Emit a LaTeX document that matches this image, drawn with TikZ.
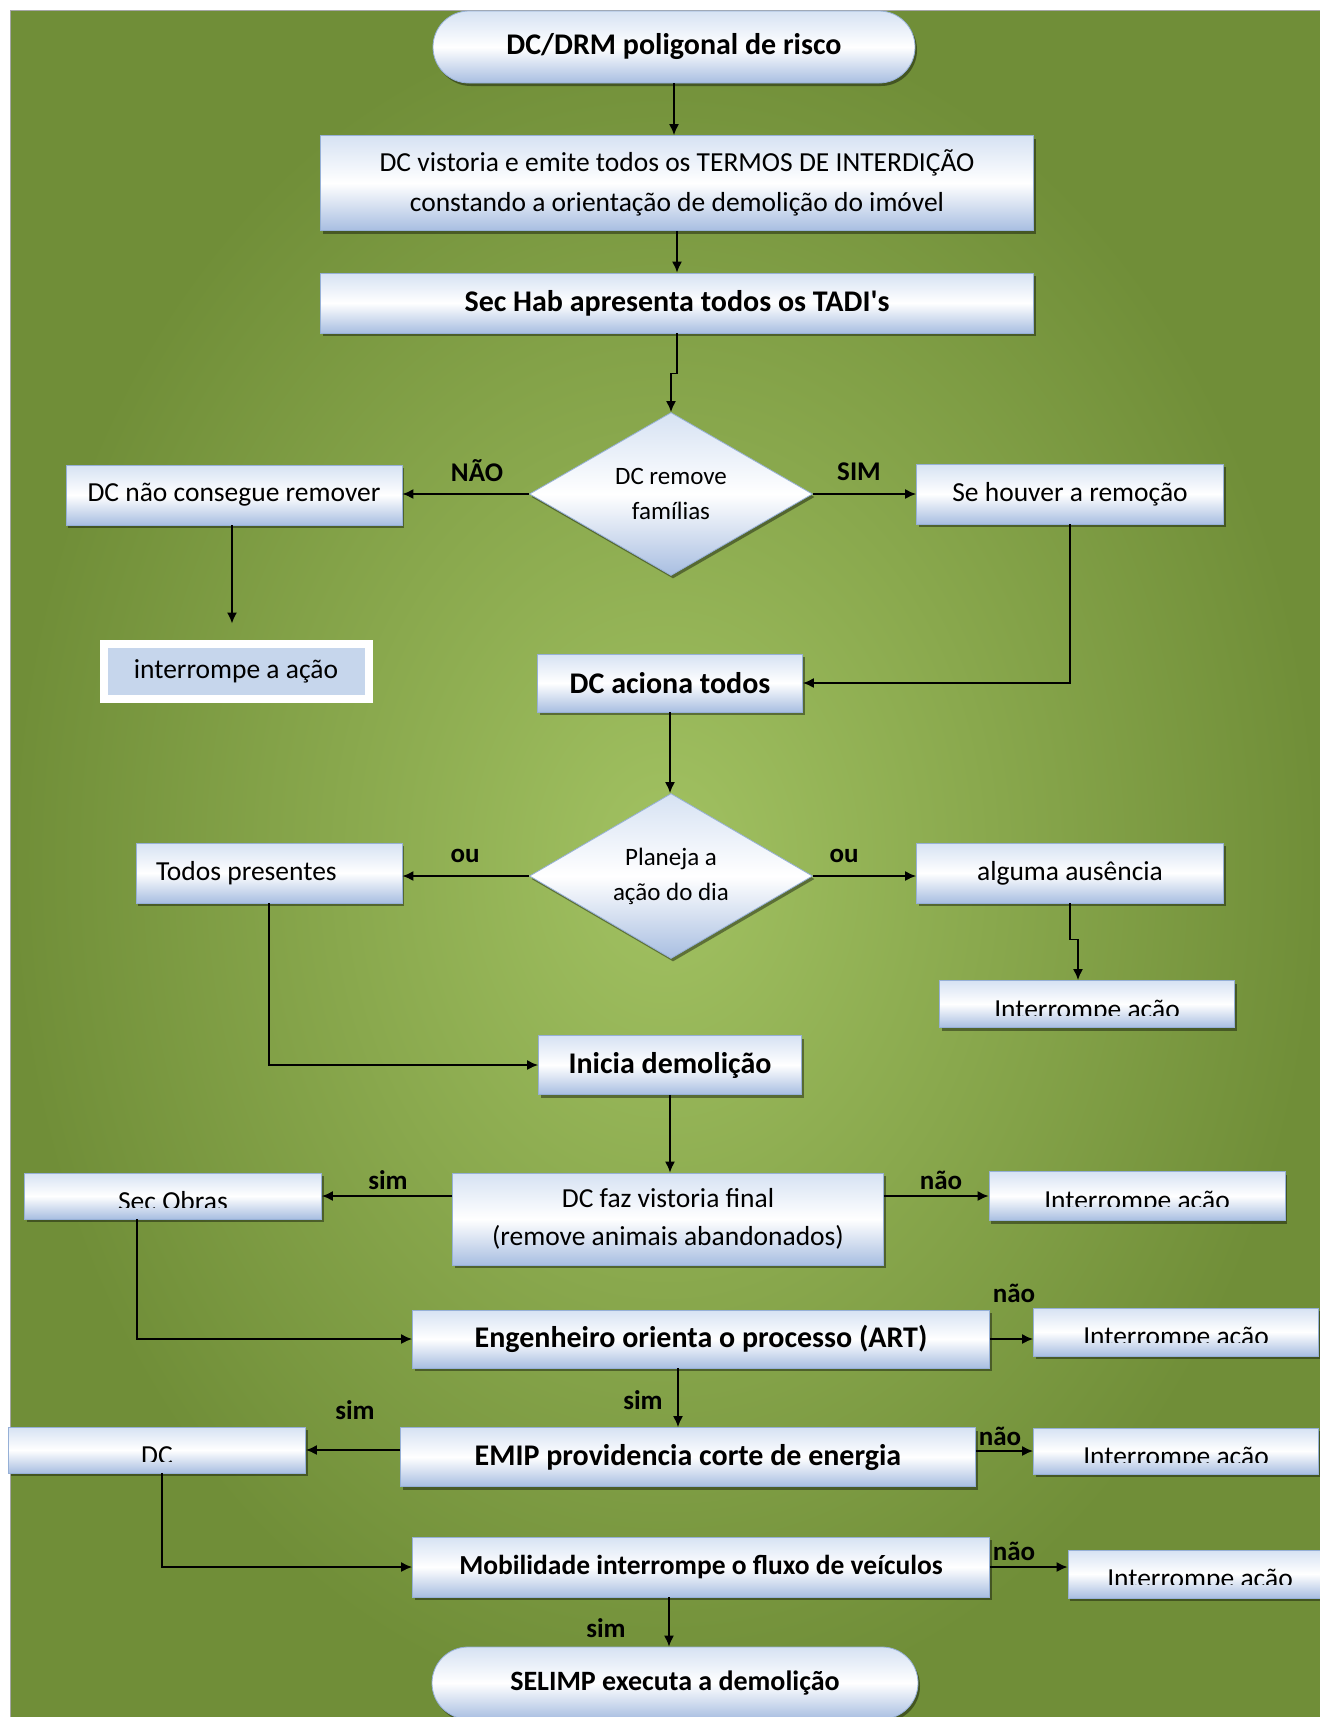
\documentclass[tikz,border=0pt]{standalone}
\usepackage{fontspec}
\setmainfont{Carlito}[Ligatures=TeXOff]
\usetikzlibrary{shapes.geometric,shapes.misc,shadows,arrows.meta,calc}
\definecolor{bgin}{RGB}{162,194,98}
\definecolor{bgout}{RGB}{112,142,56}
\definecolor{btop}{RGB}{214,226,243}
\definecolor{bbot}{RGB}{168,190,225}
\definecolor{bedge}{RGB}{150,176,215}
\definecolor{iafill}{RGB}{198,214,236}
\tikzset{
 bx/.style={shape=rectangle, top color=btop, bottom color=bbot, middle color=white, draw=bedge, line width=0.8pt, inner sep=0pt, align=center, font=\fontsize{27.5}{40}\selectfont, drop shadow={shadow xshift=2pt, shadow yshift=-3pt, opacity=0.4, fill=black}},
 bbx/.style={bx, font=\fontsize{30}{36}\selectfont\bfseries},
 term/.style={bbx, shape=rounded rectangle},
 dia/.style={bx, shape=diamond, aspect=1.74, font=\fontsize{25}{35}\selectfont},
 iabox/.style={shape=rectangle, fill=iafill, draw=white, line width=8pt, inner sep=0pt, font=\fontsize{27.5}{40}\selectfont, drop shadow={shadow xshift=2pt, shadow yshift=-3pt, opacity=0.4, fill=black}},
 arr/.style={-{Latex[length=11pt,width=10pt]}, line width=1.6pt, black},
 lbl/.style={font=\fontsize{27}{30}\selectfont\bfseries, inner sep=0pt},
}
\newcommand\cliptext[2]{%
 \begin{scope}
 \clip ($(#1.north west)$) rectangle ($(#1.north east)+(0,35)$);
 \node[anchor=base, inner sep=0pt, font=\fontsize{27.5}{40}\selectfont] (#1t) at ($(#1.north)+(0,38)$) {#2};
 \end{scope}}
\begin{document}
\begin{tikzpicture}[x=1pt,y=-1pt]
\useasboundingbox (0,0) rectangle (1320,1717);
\clip (0,0) rectangle (1320,1717);
\fill[white] (0,0) rectangle (1320,1717);
\shade[inner color=bgin, outer color=bgout] (10,10) rectangle (1320,1717);
\draw[gray!70, line width=1pt] (10,1717) -- (10,10) -- (1320,10);

\node[term, minimum width=482pt, minimum height=72pt] (start) at (674,47) {DC/DRM poligonal de risco};
\node[bx, minimum width=713pt, minimum height=95pt] (vist) at (677,183) {DC vistoria e emite todos os TERMOS DE INTERDIÇÃO\\constando a orientação de demolição do imóvel};
\node[bbx, minimum width=713pt, minimum height=60pt] (sechab) at (677,303) {Sec Hab apresenta todos os TADI's};
\node[dia, minimum width=283pt, minimum height=163pt] (d1) at (671,494) {DC remove\\famílias};
\node[bx, minimum width=336pt, minimum height=60pt] (dcn) at (234,495) {DC não consegue remover};
\node[bx, minimum width=307pt, minimum height=60pt] (se) at (1070,494) {Se houver a remoção};
\node[iabox, minimum width=265pt, minimum height=55pt] (iaa) at (236,671) {interrompe a ação};
\node[bbx, minimum width=265pt, minimum height=58pt] (aciona) at (670,683) {DC aciona todos};
\node[dia, minimum width=283pt, minimum height=165pt] (d2) at (671,876) {Planeja a\\ação do dia};
\node[bx, minimum width=266pt, minimum height=60pt] (todos) at (269,873) {\makebox[226pt][l]{Todos presentes}};
\node[bx, minimum width=307pt, minimum height=60pt] (alg) at (1070,873) {alguma ausência};
\node[bx, minimum width=295pt, minimum height=47pt] (i1) at (1087,1004) {};
\node[bbx, minimum width=263pt, minimum height=59pt] (ini) at (670,1065) {Inicia demolição};
\node[bx, minimum width=431pt, minimum height=92pt, font=\fontsize{27.5}{38}\selectfont] (vf) at (668,1219) {DC faz vistoria final\\(remove animais abandonados)};
\node[bx, minimum width=297pt, minimum height=46pt] (secob) at (173,1196) {};
\node[bx, minimum width=296pt, minimum height=49pt] (i2) at (1137,1196) {};
\node[bbx, minimum width=577pt, minimum height=58pt] (eng) at (701,1339) {Engenheiro orienta o processo (ART)};
\node[bx, minimum width=285pt, minimum height=48pt] (i3) at (1176,1332) {};
\node[bbx, minimum width=575pt, minimum height=59pt] (emip) at (688,1457) {EMIP providencia corte de energia};
\node[bx, minimum width=297pt, minimum height=46pt] (dcb) at (157,1450) {};
\node[bx, minimum width=285pt, minimum height=46pt] (i4) at (1176,1451) {};
\node[bbx, minimum width=577pt, minimum height=60pt, font=\fontsize{27.5}{33}\selectfont\bfseries] (mob) at (701,1567) {Mobilidade interrompe o fluxo de veículos};
\node[bx, minimum width=264pt, minimum height=48pt] (i5) at (1200,1574) {};
\node[term, minimum width=486pt, minimum height=72pt, font=\fontsize{28}{33}\selectfont\bfseries] (end) at (675,1683) {SELIMP executa a demolição};

\cliptext{i1}{Interrompe ação}
\cliptext{secob}{Sec Obras}
\cliptext{i2}{Interrompe ação}
\cliptext{i3}{Interrompe ação}
\cliptext{dcb}{DC}
\cliptext{i4}{Interrompe ação}
\cliptext{i5}{Interrompe ação}

\draw[arr] (start.south) -- (start.south |- vist.north);
\draw[arr] (vist.south) -- (sechab.north);
\draw[arr] (sechab.south) -- ++(0,40) -| (d1.north);
\draw[arr] (d1.west) -- (dcn.east |- d1.west);
\draw[arr] (d1.east) -- (se.west |- d1.east);
\draw[arr, shorten >=16pt] ([xshift=-2pt]dcn.south) -- ([xshift=-2pt]dcn.south |- iaa.north);
\draw[arr] (se.south) |- (aciona.east);
\draw[arr] (aciona.south) -- (aciona.south |- d2.north);
\draw[arr] (d2.west) -- (todos.east |- d2.west);
\draw[arr] (d2.east) -- (alg.west |- d2.east);
\draw[arr] (alg.south) -- ++(0,36) -| ([xshift=-9pt]i1.north);
\draw[arr] (todos.south) |- (ini.west);
\draw[arr] (ini.south) -- (ini.south |- vf.north);
\draw[arr] (vf.west |- secob.east) -- (secob.east);
\draw[arr] (vf.east |- i2.west) -- (i2.west);
\draw[arr] ([xshift=-36pt]secob.south) |- (eng.west);
\draw[arr] (eng.east) -- (i3.west |- eng.east);
\draw[arr] ([xshift=-23pt]eng.south) -- ([xshift=-23pt]eng.south |- emip.north);
\draw[arr] (emip.west |- dcb.east) -- (dcb.east);
\draw[arr] (emip.east |- i4.west) -- (i4.west);
\draw[arr] ([xshift=5pt]dcb.south) |- (mob.west);
\draw[arr] (mob.east) -- (i5.west |- mob.east);
\draw[arr] ([xshift=-32pt]mob.south) -- ([xshift=-32pt]mob.south |- end.north);

\node[lbl] (l1) at (477,471) {NÃO};
\node[lbl] (l2) at (859,472) {SIM};
\node[lbl] (l3) at (465,856) {ou};
\node[lbl] (l4) at (844,856) {ou};
\node[lbl] (l5) at (388,1180) {sim};
\node[lbl] (l6) at (941,1180) {não};
\node[lbl] (l7) at (1014,1293) {não};
\node[lbl] (l8) at (643,1400) {sim};
\node[lbl] (l9) at (355,1410) {sim};
\node[lbl] (l10) at (1000,1436) {não};
\node[lbl] (l11) at (1014,1551) {não};
\node[lbl] (l12) at (606,1628) {sim};
\end{tikzpicture}
\end{document}
